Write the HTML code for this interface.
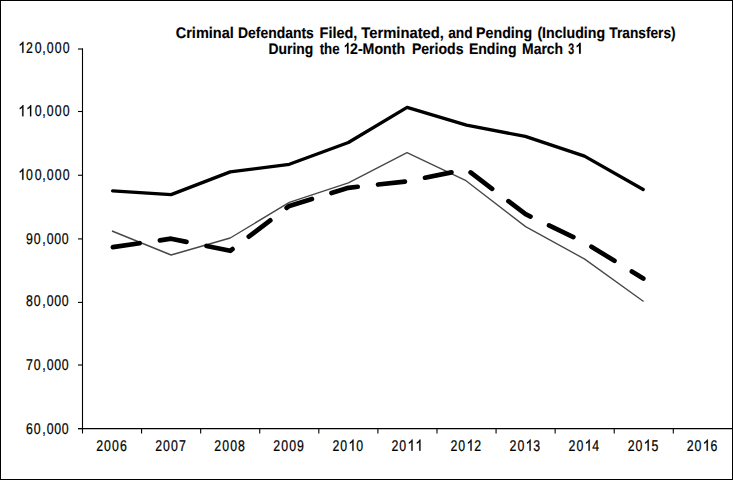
<!DOCTYPE html>
<html><head><meta charset="utf-8"><style>
html,body{margin:0;padding:0;background:#fff;}
body{width:733px;height:480px;overflow:hidden;position:relative;}
.frame{position:absolute;left:0;top:0;width:731px;height:478px;border:1px solid #000;}
svg{position:absolute;left:0;top:0;}
.ax{text-rendering:geometricPrecision;font-family:"Liberation Sans",sans-serif;font-size:14px;fill:#000;stroke:#000;stroke-width:0.22px;}
.ti{text-rendering:geometricPrecision;font-family:"Liberation Sans",sans-serif;font-size:14px;font-weight:bold;fill:#000;stroke:#000;stroke-width:0.12px;}
</style></head><body>
<svg width="733" height="480" viewBox="0 0 733 480">
<path d="M82.5 48.5 V433.5" stroke="#000" stroke-width="1.1" fill="none"/>
<path d="M78 428.6 H732" stroke="#000" stroke-width="1.1" fill="none"/>
<path d="M78 49.0 H83" stroke="#000" stroke-width="1.1"/>
<path d="M78 111.5 H83" stroke="#000" stroke-width="1.1"/>
<path d="M78 175.25 H83" stroke="#000" stroke-width="1.1"/>
<path d="M78 238.9 H83" stroke="#000" stroke-width="1.1"/>
<path d="M78 302.4 H83" stroke="#000" stroke-width="1.1"/>
<path d="M78 365.0 H83" stroke="#000" stroke-width="1.1"/>
<path d="M78 428.6 H83" stroke="#000" stroke-width="1.1"/>
<path d="M141.58 428 V433.5" stroke="#000" stroke-width="1.1"/>
<path d="M200.66 428 V433.5" stroke="#000" stroke-width="1.1"/>
<path d="M259.74 428 V433.5" stroke="#000" stroke-width="1.1"/>
<path d="M318.82 428 V433.5" stroke="#000" stroke-width="1.1"/>
<path d="M377.90 428 V433.5" stroke="#000" stroke-width="1.1"/>
<path d="M436.98 428 V433.5" stroke="#000" stroke-width="1.1"/>
<path d="M496.06 428 V433.5" stroke="#000" stroke-width="1.1"/>
<path d="M555.14 428 V433.5" stroke="#000" stroke-width="1.1"/>
<path d="M614.22 428 V433.5" stroke="#000" stroke-width="1.1"/>
<path d="M673.30 428 V433.5" stroke="#000" stroke-width="1.1"/>
<text class="ax" text-anchor="middle" transform="translate(0 52.775) scale(0.88 1.11)" x="33.409 43.523 50.000 57.159 66.023 75.170" y="0">20,000</text>
<path d="M763 0H583V1147Q518 1085 413 1023Q308 961 224 930V1104Q375 1175 488 1276Q601 1377 648 1466H763Z" transform="translate(18.226 52.775) scale(0.00684 -0.00759)" fill="#000" stroke="#000" stroke-width="0.2" vector-effect="non-scaling-stroke"/>
<text class="ax" text-anchor="middle" transform="translate(0 116.250) scale(0.88 1.11)" x="43.523 50.000 57.159 66.023 75.170" y="0">0,000</text>
<path d="M763 0H583V1147Q518 1085 413 1023Q308 961 224 930V1104Q375 1175 488 1276Q601 1377 648 1466H763Z" transform="translate(18.226 116.250) scale(0.00684 -0.00759)" fill="#000" stroke="#000" stroke-width="0.2" vector-effect="non-scaling-stroke"/>
<path d="M763 0H583V1147Q518 1085 413 1023Q308 961 224 930V1104Q375 1175 488 1276Q601 1377 648 1466H763Z" transform="translate(26.026 116.250) scale(0.00684 -0.00759)" fill="#000" stroke="#000" stroke-width="0.2" vector-effect="non-scaling-stroke"/>
<text class="ax" text-anchor="middle" transform="translate(0 179.650) scale(0.88 1.11)" x="33.409 43.523 50.000 57.159 66.023 75.170" y="0">00,000</text>
<path d="M763 0H583V1147Q518 1085 413 1023Q308 961 224 930V1104Q375 1175 488 1276Q601 1377 648 1466H763Z" transform="translate(18.226 179.650) scale(0.00684 -0.00759)" fill="#000" stroke="#000" stroke-width="0.2" vector-effect="non-scaling-stroke"/>
<text class="ax" text-anchor="middle" transform="translate(0 243.700) scale(0.88 1.11)" x="33.523 42.386 50.000 56.932 65.568 74.091" y="0">90,000</text>
<text class="ax" text-anchor="middle" transform="translate(0 306.100) scale(0.88 1.11)" x="33.523 42.386 50.000 56.932 65.568 74.091" y="0">80,000</text>
<text class="ax" text-anchor="middle" transform="translate(0 369.850) scale(0.88 1.11)" x="33.523 42.386 50.000 56.932 65.568 74.091" y="0">70,000</text>
<text class="ax" text-anchor="middle" transform="translate(0 433.650) scale(0.88 1.11)" x="33.523 42.386 50.000 56.932 65.568 74.091" y="0">60,000</text>
<text class="ax" text-anchor="middle" transform="translate(0 450.700) scale(0.88 1.11)" x="113.239 122.159 131.250 140.227" y="0">2006</text>
<text class="ax" text-anchor="middle" transform="translate(0 450.700) scale(0.88 1.11)" x="180.341 189.261 198.352 207.330" y="0">2007</text>
<text class="ax" text-anchor="middle" transform="translate(0 450.700) scale(0.88 1.11)" x="247.443 256.364 265.455 274.432" y="0">2008</text>
<text class="ax" text-anchor="middle" transform="translate(0 450.700) scale(0.88 1.11)" x="314.545 323.466 332.557 341.534" y="0">2009</text>
<text class="ax" text-anchor="middle" transform="translate(0 450.700) scale(0.88 1.11)" x="381.648 390.568 408.636" y="0">200</text>
<path d="M763 0H583V1147Q518 1085 413 1023Q308 961 224 930V1104Q375 1175 488 1276Q601 1377 648 1466H763Z" transform="translate(348.326 450.700) scale(0.00684 -0.00759)" fill="#000" stroke="#000" stroke-width="0.2" vector-effect="non-scaling-stroke"/>
<text class="ax" text-anchor="middle" transform="translate(0 450.700) scale(0.88 1.11)" x="448.750 457.670" y="0">20</text>
<path d="M763 0H583V1147Q518 1085 413 1023Q308 961 224 930V1104Q375 1175 488 1276Q601 1377 648 1466H763Z" transform="translate(407.376 450.700) scale(0.00684 -0.00759)" fill="#000" stroke="#000" stroke-width="0.2" vector-effect="non-scaling-stroke"/>
<path d="M763 0H583V1147Q518 1085 413 1023Q308 961 224 930V1104Q375 1175 488 1276Q601 1377 648 1466H763Z" transform="translate(415.276 450.700) scale(0.00684 -0.00759)" fill="#000" stroke="#000" stroke-width="0.2" vector-effect="non-scaling-stroke"/>
<text class="ax" text-anchor="middle" transform="translate(0 450.700) scale(0.88 1.11)" x="515.852 524.773 542.841" y="0">202</text>
<path d="M763 0H583V1147Q518 1085 413 1023Q308 961 224 930V1104Q375 1175 488 1276Q601 1377 648 1466H763Z" transform="translate(466.426 450.700) scale(0.00684 -0.00759)" fill="#000" stroke="#000" stroke-width="0.2" vector-effect="non-scaling-stroke"/>
<text class="ax" text-anchor="middle" transform="translate(0 450.700) scale(0.88 1.11)" x="582.955 591.875 609.943" y="0">203</text>
<path d="M763 0H583V1147Q518 1085 413 1023Q308 961 224 930V1104Q375 1175 488 1276Q601 1377 648 1466H763Z" transform="translate(525.476 450.700) scale(0.00684 -0.00759)" fill="#000" stroke="#000" stroke-width="0.2" vector-effect="non-scaling-stroke"/>
<text class="ax" text-anchor="middle" transform="translate(0 450.700) scale(0.88 1.11)" x="650.057 658.977 677.045" y="0">204</text>
<path d="M763 0H583V1147Q518 1085 413 1023Q308 961 224 930V1104Q375 1175 488 1276Q601 1377 648 1466H763Z" transform="translate(584.526 450.700) scale(0.00684 -0.00759)" fill="#000" stroke="#000" stroke-width="0.2" vector-effect="non-scaling-stroke"/>
<text class="ax" text-anchor="middle" transform="translate(0 450.700) scale(0.88 1.11)" x="717.159 726.080 744.148" y="0">205</text>
<path d="M763 0H583V1147Q518 1085 413 1023Q308 961 224 930V1104Q375 1175 488 1276Q601 1377 648 1466H763Z" transform="translate(643.576 450.700) scale(0.00684 -0.00759)" fill="#000" stroke="#000" stroke-width="0.2" vector-effect="non-scaling-stroke"/>
<text class="ax" text-anchor="middle" transform="translate(0 450.700) scale(0.88 1.11)" x="784.261 793.182 811.250" y="0">206</text>
<path d="M763 0H583V1147Q518 1085 413 1023Q308 961 224 930V1104Q375 1175 488 1276Q601 1377 648 1466H763Z" transform="translate(702.626 450.700) scale(0.00684 -0.00759)" fill="#000" stroke="#000" stroke-width="0.2" vector-effect="non-scaling-stroke"/>
<text transform="translate(175.72 38.20) scale(1.0375 1.1)" class="ti">Criminal</text>
<text transform="translate(238.00 38.20) scale(0.9938 1.1)" class="ti">Defendants</text>
<text transform="translate(319.56 38.20) scale(1.0340 1.1)" class="ti">Filed,</text>
<text transform="translate(361.35 38.20) scale(1.0543 1.1)" class="ti">Terminated,</text>
<text transform="translate(448.19 38.20) scale(0.9821 1.1)" class="ti">and</text>
<text transform="translate(476.08 38.20) scale(1.0148 1.1)" class="ti">Pending</text>
<text transform="translate(537.39 38.20) scale(1.0116 1.1)" class="ti">(Including</text>
<text transform="translate(609.36 38.20) scale(0.9788 1.1)" class="ti">Transfers)</text>
<text transform="translate(268.50 53.85) scale(0.9917 1.1)" class="ti">During</text>
<text transform="translate(319.67 53.85) scale(0.9475 1.1)" class="ti">the</text>
<text transform="translate(350.00 53.85) scale(1.0121 1.1)" class="ti">2-Month</text>
<text transform="translate(411.89 53.85) scale(1.0052 1.1)" class="ti">Periods</text>
<text transform="translate(468.89 53.85) scale(1.0050 1.1)" class="ti">Ending</text>
<text transform="translate(522.09 53.85) scale(0.9954 1.1)" class="ti">March</text>
<text transform="translate(568.23 53.85) scale(0.7648 1.1)" class="ti">3</text>
<path d="M854 0H573V1059Q419 915 210 846V1101Q320 1137 449 1237Q578 1337 626 1466H854Z" transform="translate(343.561 53.850) scale(0.00590 -0.00762)" fill="#000" stroke="#000" stroke-width="0.05" vector-effect="non-scaling-stroke"/>
<path d="M854 0H573V1059Q419 915 210 846V1101Q320 1137 449 1237Q578 1337 626 1466H854Z" transform="translate(575.230 53.850) scale(0.00652 -0.00762)" fill="#000" stroke="#000" stroke-width="0.05" vector-effect="non-scaling-stroke"/>
<polyline points="112.00,231.00 171.10,255.00 230.20,238.00 289.30,202.30 348.40,182.80 407.00,152.70 466.00,180.70 525.60,226.60 584.70,259.10 643.60,301.50" fill="none" stroke="#474747" stroke-width="1.35" stroke-linejoin="round"/>
<polyline points="112.00,247.20 171.10,238.70 230.20,250.80 289.30,205.90 348.40,187.80 407.40,181.30 466.50,169.30 525.60,214.20 584.70,242.50 643.30,278.60" fill="none" stroke="#000" stroke-width="4.7" stroke-linecap="round" stroke-linejoin="round" stroke-dasharray="27 20.5" stroke-dashoffset="46.6"/>
<polyline points="112.60,190.80 171.10,194.60 230.20,171.90 289.30,164.30 348.40,142.50 407.10,107.30 466.50,125.20 525.30,136.40 584.50,156.10 643.20,189.50" fill="none" stroke="#000" stroke-width="3.3" stroke-linecap="round" stroke-linejoin="round"/>
</svg>
<div class="frame"></div>
</body></html>
